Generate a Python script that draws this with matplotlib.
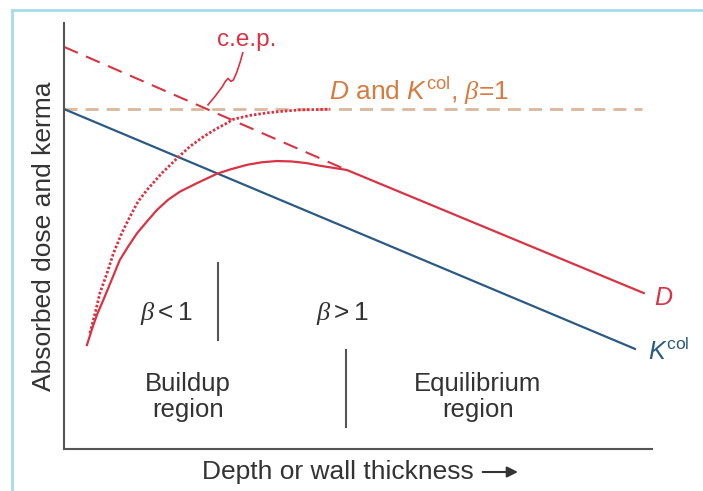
import matplotlib
matplotlib.use("Agg")
import matplotlib.pyplot as plt
from matplotlib.lines import Line2D

plt.rcParams['font.family'] = ['Liberation Sans', 'DejaVu Sans']
plt.rcParams['mathtext.fontset'] = 'custom'
plt.rcParams['mathtext.rm'] = 'Liberation Sans'
plt.rcParams['mathtext.it'] = 'Liberation Sans:italic'
plt.rcParams['mathtext.cal'] = 'Liberation Serif:italic'

# collision kerma (straight line, attenuated)
kcol_x = [0.0, 9.71]
kcol_y = [7.98, 2.35]

# D = Kcol, beta = 1 reference level
flat_x = [0.0, 9.83]
flat_y = [7.98, 7.98]

# extrapolated equilibrium line (dashed)
extrap_x = [0.0, 4.81]
extrap_y = [9.44, 6.55]

# absorbed dose D
dose_x = [0.39, 0.47, 0.56, 0.67, 0.81, 0.95, 1.09, 1.24, 1.41, 1.58, 1.77, 1.97,
          2.26, 2.60, 2.82, 3.11, 3.36, 3.62, 3.87, 4.13, 4.35, 4.58, 4.81, 9.86]
dose_y = [2.44, 2.79, 3.15, 3.50, 3.97, 4.44, 4.75, 5.06, 5.34, 5.61, 5.85, 6.04,
          6.24, 6.46, 6.56, 6.67, 6.73, 6.76, 6.75, 6.71, 6.65, 6.60, 6.55, 3.66]

# dose curve without attenuation (dotted, c.e.p.)
cep_x = [0.44, 0.53, 0.61, 0.73, 0.84, 0.98, 1.12, 1.26, 1.41, 1.66, 1.92, 2.14,
         2.37, 2.57, 2.77, 2.88, 3.16, 3.45, 3.73, 4.01, 4.35, 4.52]
cep_y = [2.72, 3.19, 3.66, 4.12, 4.59, 5.06, 5.45, 5.81, 6.08, 6.47, 6.82, 7.10,
         7.33, 7.50, 7.65, 7.74, 7.83, 7.89, 7.93, 7.96, 7.97, 7.98]

# squiggle pointing from the c.e.p. label
squig_x = [3.04, 3.00, 2.94, 2.88, 2.84, 2.79, 2.74, 2.69, 2.57, 2.45]
squig_y = [9.30, 9.10, 8.85, 8.66, 8.63, 8.70, 8.62, 8.50, 8.28, 8.08]

red = '#d93344'
blue = '#2b5a82'
tan = '#dbb79c'
orange = '#d97b3f'
gray = '#333333'

fig = plt.figure(figsize=(7.03, 4.91), dpi=100)
ax = fig.add_axes([64/703, 1 - 449/491, 588/703, 426/491])
ax.set_xlim(0, 10)
ax.set_ylim(0, 10)

ax.plot(flat_x, flat_y, color=tan, lw=2.0, dashes=(4.7, 2.9))
ax.plot(extrap_x, extrap_y, color=red, lw=1.5, dashes=(7.2, 4.3))
ax.plot(kcol_x, kcol_y, color=blue, lw=1.6)
ax.plot(cep_x, cep_y, color=red, lw=2.0, dashes=(0.9, 0.7))
ax.plot(dose_x, dose_y, color=red, lw=1.6, solid_joinstyle='round')
ax.plot(squig_x, squig_y, color=red, lw=1.2, solid_joinstyle='round')

# region separators
ax.plot([2.62, 2.62], [2.56, 4.37], color='#555555', lw=1.5)
ax.plot([4.80, 4.80], [0.52, 2.32], color='#555555', lw=1.5)

ax.text(3.11, 9.60, 'c.e.p.', color=red, fontsize=17.5, ha='center', va='center')
ax.text(4.51, 8.40, r'$D$ and $K^{\mathrm{col}}$, $\mathcal{\beta}$=1', color=orange,
        fontsize=19, ha='left', va='center')
ax.text(1.75, 3.19, r'$\mathcal{\beta} < 1$', color=gray, fontsize=19, ha='center', va='center')
ax.text(4.73, 3.19, r'$\mathcal{\beta} > 1$', color=gray, fontsize=19, ha='center', va='center')
ax.text(2.11, 1.22, 'Buildup\nregion', color=gray, fontsize=18.5, ha='center', va='center',
        linespacing=1.1)
ax.text(7.04, 1.22, 'Equilibrium\nregion', color=gray, fontsize=18.5, ha='center', va='center',
        linespacing=1.1)
ax.text(10.19, 3.54, r'$D$', color=red, fontsize=18, ha='center', va='center')
ax.text(9.93, 2.28, r'$K^{\mathrm{col}}$', color=blue, fontsize=18, ha='left', va='center')

# x label with a long filled arrow after it
ax.text(0.465, -0.054, 'Depth or wall thickness', fontsize=19, color=gray,
        ha='center', va='center', transform=ax.transAxes)
ax.annotate('', xy=(0.772, -0.054), xytext=(0.712, -0.054),
            xycoords='axes fraction', textcoords='axes fraction',
            arrowprops=dict(arrowstyle='-|>', color=gray, lw=1.5, mutation_scale=16,
                            shrinkA=0, shrinkB=0))
ax.set_ylabel('Absorbed dose and kerma', fontsize=19, color=gray, labelpad=6)

ax.set_xticks([])
ax.set_yticks([])
for s in ['top', 'right']:
    ax.spines[s].set_visible(False)
for s in ['left', 'bottom']:
    ax.spines[s].set_color('#555555')
    ax.spines[s].set_linewidth(1.5)

# light blue frame around the figure (left and top edges visible)
fig.add_artist(Line2D([12/703, 12/703], [0, 1 - 10/491], color='#a6dce9', lw=2,
                      transform=fig.transFigure))
fig.add_artist(Line2D([12/703, 1], [1 - 10/491, 1 - 10/491], color='#a6dce9', lw=2,
                      transform=fig.transFigure))

fig.savefig('out.png', dpi=100)
